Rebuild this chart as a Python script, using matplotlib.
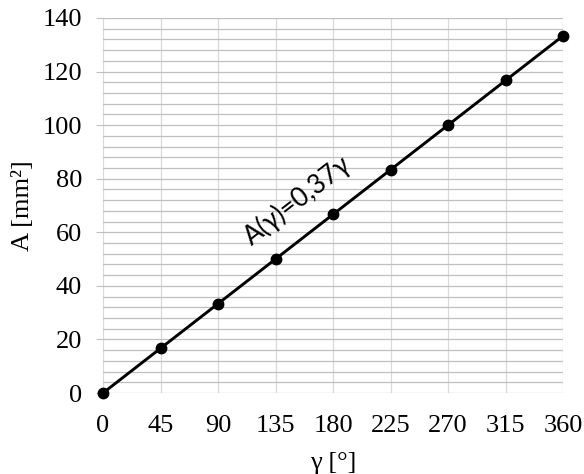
import matplotlib
matplotlib.use("Agg")
import matplotlib.pyplot as plt
from matplotlib.ticker import MultipleLocator

gamma = [0, 45, 90, 135, 180, 225, 270, 315, 360]
area = [0, 16.67, 33.33, 50.0, 66.67, 83.33, 100.0, 116.67, 133.33]
x_ticks = [0, 45, 90, 135, 180, 225, 270, 315, 360]
y_ticks = [0, 20, 40, 60, 80, 100, 120, 140]
annotation = "A(γ)=0,37γ"

plt.rcParams['font.family'] = ['Liberation Serif', 'DejaVu Serif']

fig = plt.figure(figsize=(5.84, 4.74), dpi=100)
ax = fig.add_axes([103/584, 81/474, 460/584, 375/474])

ax.set_xlim(0, 360)
ax.set_ylim(0, 140)
ax.set_xticks(x_ticks)
ax.set_yticks(y_ticks)
ax.yaxis.set_minor_locator(MultipleLocator(4))

for s in ax.spines.values():
    s.set_visible(False)

ax.grid(True, axis='y', which='both', color='#bfbfbf', linewidth=0.9)
ax.grid(True, axis='x', which='major', color='#d9d9d9', linewidth=0.9)
ax.set_axisbelow(True)

ax.tick_params(axis='y', which='major', direction='out', length=5, width=0.8,
               color='#bfbfbf', pad=10, labelsize=19)
ax.tick_params(axis='y', which='minor', length=0)
ax.tick_params(axis='x', which='major', length=0, pad=16, labelsize=19)

ax.plot(gamma, area, color='black', linewidth=2.1, marker='o', markersize=7.5,
        clip_on=False, zorder=5)

ax.text(152, 72, annotation, rotation=37.8, ha='center', va='center',
        fontsize=19, family=['Lato', 'DejaVu Sans'])

ax.set_ylabel("A [mm²]", fontsize=19, labelpad=6)
ax.set_xlabel("γ [°]", fontsize=19, labelpad=10.5)

fig.savefig("out.png", dpi=100)
